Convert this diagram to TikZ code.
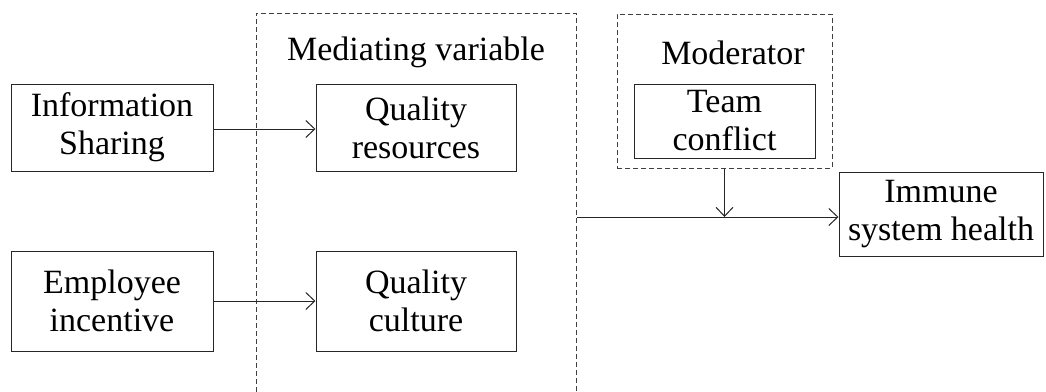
\documentclass[tikz,border=0pt]{standalone}
\usepackage{fontspec}
\setmainfont{Liberation Serif}
\usetikzlibrary{arrows.meta,calc}
\begin{document}
\begin{tikzpicture}[x=1pt,y=-1pt,
  every node/.style={font=\fontsize{34}{38}\selectfont},
  box/.style={draw=black!85,line width=1pt,rectangle,inner sep=0pt,align=center},
  group/.style={draw=black!75,line width=1pt,dash pattern=on 5pt off 3pt,rectangle,inner sep=0pt},
  link/.style={draw=black!85,line width=1pt,-{Straight Barb[length=9pt,width=17pt,line width=1pt]}}]
\useasboundingbox (0,0) rectangle (1046,391);

% dashed groups
\node[group,minimum width=320pt,minimum height=386pt] (med) at (416,206) {};
\node[group,minimum width=215pt,minimum height=154pt] (mod) at (724.5,91) {};
\node (medlabel) at (416,52) {Mediating variable};
\node (modlabel) at (733,53) {Moderator};

% boxes
\node[box,minimum width=202pt,minimum height=87pt] (info) at (112,127.5) {Information\\Sharing};
\node[box,minimum width=202pt,minimum height=100pt] (emp) at (112,301) {Employee\\incentive};
\node[box,minimum width=200pt,minimum height=87pt] (qres) at (416,127.5) {Quality\\resources};
\node[box,minimum width=200pt,minimum height=100pt] (qcul) at (416,301) {Quality\\culture};
\node[box,minimum width=181pt,minimum height=74pt] (team) at (724.5,121) {Team\\conflict};
\node[box,minimum width=204pt,minimum height=84pt] (imm) at (941,214) {Immune\\system health};

% connectors
\draw[link] (info.east |- 0,129) -- (qres.west |- 0,129);
\draw[link] (emp.east |- 0,301) -- (qcul.west |- 0,301);
\coordinate (join) at (mod.south |- 0,217);
\draw[link] (med.east |- join) -- (imm.west |- join);
\draw[link] (mod.south) -- (join);
\end{tikzpicture}
\end{document}
